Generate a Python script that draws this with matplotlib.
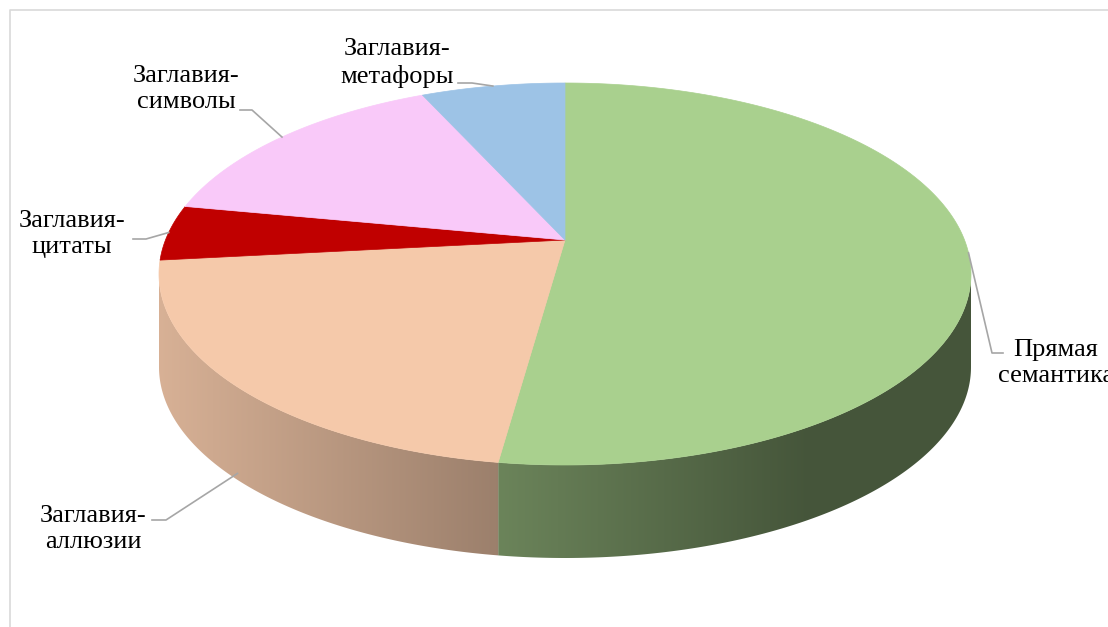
import numpy as np
import matplotlib
matplotlib.use("Agg")
from matplotlib import pyplot as plt
from matplotlib.patches import Polygon

# data, clockwise from 12 o'clock
categories = ["Прямая\nсемантика", "Заглавия-\nаллюзии", "Заглавия-\nцитаты",
              "Заглавия-\nсимволы", "Заглавия-\nметафоры"]
shares = [52.2, 21.1, 4.7, 15.2, 6.8]
colors = ["#A9D08E", "#F5C9AA", "#C00000", "#F9C9F9", "#9DC3E6"]

# layout (pixels)
W, H = 1108, 627
CX, CY = 565, 274          # centre of the top ellipse
RX, RY = 406, 191
DEPTH = 93                 # thickness of the pie
APEX = 0.178               # perspective shift of the pie centre
lbl_pos = [(1056, 363), (93, 529), (72, 234), (186, 89), (397, 63)]
lbl_line = [[(1003, 353), (992, 353)], [(152, 520), (166, 520)],
            [(133, 239), (146, 239)], [(240, 110), (252, 110)],
            [(458, 83), (472, 83)]]

a = np.arctanh(APEX)
ch, sh = np.cosh(a), np.sinh(a)


def project(theta):
    # theta: clockwise from top, radians; circle -> ellipse with perspective
    x, y = np.sin(theta), np.cos(theta)
    den = y * sh + ch
    xp = x / den
    yp = (y * ch + sh) / den
    return xp, yp


def to_px(xp, yp):
    return CX + RX * xp, CY - RY * yp


def shade(xp):
    return np.interp(xp, [-1, 0.6, 1], [0.88, 0.41, 0.41])


fig = plt.figure(figsize=(W / 100, H / 100), dpi=100)
ax = fig.add_axes([0, 0, 1, 1])
ax.set_xlim(0, W)
ax.set_ylim(H, 0)
ax.axis("off")

# chart frame
ax.plot([9.5, 9.5, W], [H, 9.5, 9.5], color="#D9D9D9", lw=1.2)

total = float(sum(shares))
bounds = np.concatenate([[0], np.cumsum(shares)]) / total * 2 * np.pi

# side walls: polygon filled with a horizontal gradient
for i in range(len(shares)):
    t = np.linspace(bounds[i], bounds[i + 1], 400)
    xp, yp = project(t)
    keep = yp <= 0.002
    if keep.sum() < 2:
        continue
    px, py = to_px(xp[keep], yp[keep])
    poly = np.column_stack([np.r_[px, px[::-1]], np.r_[py, py[::-1] + DEPTH]])
    patch = Polygon(poly, closed=True, facecolor="none", edgecolor="none")
    ax.add_patch(patch)
    x0, x1 = px.min() - 1, px.max() + 1
    cols_x = np.linspace(x0, x1, 600)
    rgb = np.array(matplotlib.colors.to_rgb(colors[i]))
    grad = rgb[None, None, :] * shade((cols_x - CX) / RX)[None, :, None]
    y0, y1 = py.min() - 1, py.max() + DEPTH + 1
    im = ax.imshow(np.clip(grad, 0, 1), extent=(x0, x1, y1, y0), aspect="auto",
                   interpolation="bilinear", zorder=1)
    im.set_clip_path(patch)

# top faces
for i in range(len(shares)):
    t = np.linspace(bounds[i], bounds[i + 1], 300)
    px, py = to_px(*project(t))
    pts = np.column_stack([np.r_[CX, px], np.r_[CY - RY * APEX, py]])
    ax.add_patch(Polygon(pts, closed=True, facecolor=colors[i],
                         edgecolor=colors[i], lw=0.5, zorder=2))

ax.set_xlim(0, W)
ax.set_ylim(H, 0)

# labels with leader lines
for i, name in enumerate(categories):
    mid = (bounds[i] + bounds[i + 1]) / 2
    xp, yp = project(mid)
    axp, ayp = to_px(xp, yp)
    if yp < 0:
        ayp += DEPTH * 0.93
    pts = lbl_line[i] + [(axp, ayp)]
    ax.plot([p[0] for p in pts], [p[1] for p in pts], color="#A6A6A6", lw=1.2,
            zorder=3)
    ax.text(lbl_pos[i][0], lbl_pos[i][1], name, ha="center", va="center",
            multialignment="center", fontsize=19, family="Liberation Serif",
            color="black", linespacing=1.25, zorder=4)

fig.savefig("out.png", dpi=100)
